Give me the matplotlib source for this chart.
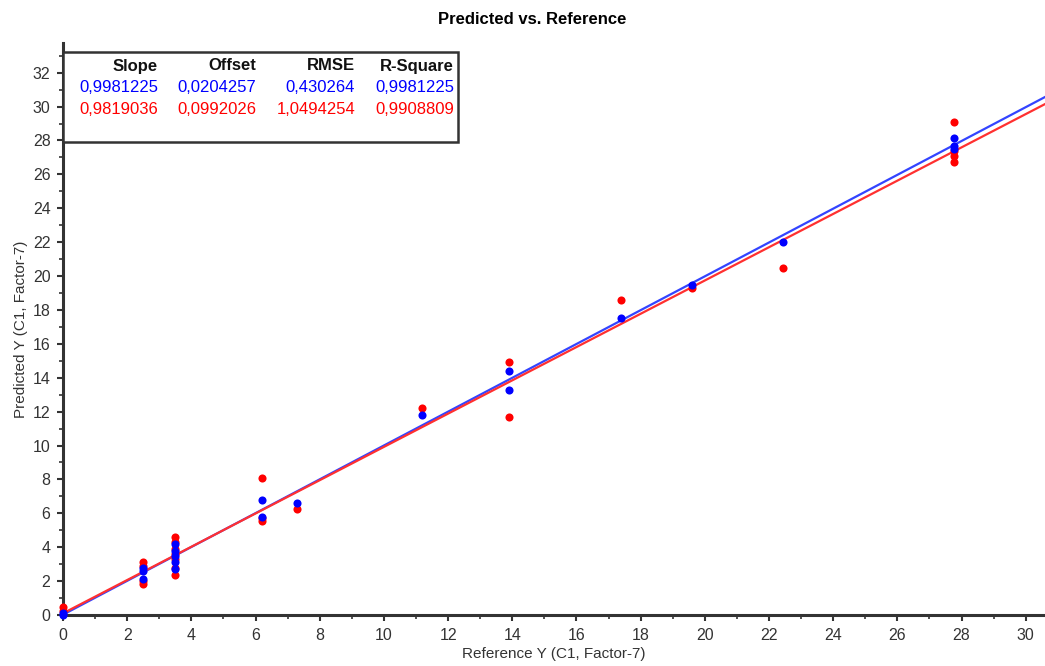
import matplotlib
matplotlib.use("Agg")
import matplotlib.pyplot as plt
from matplotlib.patches import Rectangle
from matplotlib.ticker import MultipleLocator

# Reference Y values (x) and predicted Y for calibration (blue) and validation (red)
blue_x = [0, 0, 2.5, 2.5, 2.5, 3.5, 3.5, 3.5, 3.5, 3.5, 6.2, 6.2, 7.3, 11.2,
          13.9, 13.9, 17.4, 19.6, 22.45, 27.75, 27.75, 27.75]
blue_y = [0.0, 0.1, 2.8, 2.6, 2.1, 4.2, 3.8, 3.5, 3.1, 2.7, 6.8, 5.8, 6.6, 11.8,
          14.4, 13.3, 17.55, 19.5, 22.0, 28.15, 27.7, 27.5]
red_x = [0, 0, 2.5, 2.5, 2.5, 2.5, 3.5, 3.5, 3.5, 3.5, 3.5, 3.5, 3.5, 6.2, 6.2,
         6.2, 7.3, 11.2, 13.9, 13.9, 17.4, 19.6, 22.45, 27.75, 27.75, 27.75, 27.75]
red_y = [0.45, 0.25, 3.1, 2.9, 2.0, 1.85, 4.6, 4.3, 3.9, 3.6, 3.3, 2.8, 2.35, 8.1,
         5.7, 5.55, 6.25, 12.2, 14.9, 11.7, 18.6, 19.3, 20.5, 29.1, 27.4, 27.1, 26.75]

# fit statistics shown in the table
headers = ["Slope", "Offset", "RMSE", "R-Square"]
blue_stats = ["0,9981225", "0,0204257", "0,430264", "0,9981225"]
red_stats = ["0,9819036", "0,0992026", "1,0494254", "0,9908809"]
blue_slope, blue_offset = 0.9981225, 0.0204257
red_slope, red_offset = 0.9819036, 0.0992026

W, H = 1045, 666
fig = plt.figure(figsize=(W / 100, H / 100), dpi=100)
ax = fig.add_axes([63 / W, 51 / H, (W - 63) / W, (615 - 43) / H])

xmax, ymax = 30.6, 33.75
ax.set_xlim(0, xmax)
ax.set_ylim(0, ymax)

lx = [0, xmax]
ax.plot(lx, [blue_offset + blue_slope * v for v in lx], color="#3344ff", lw=1.6, zorder=2)
ax.plot(lx, [red_offset + red_slope * v for v in lx], color="#ff3030", lw=1.6, zorder=2)
ax.scatter(red_x, red_y, s=34, color="#ff0000", zorder=3, clip_on=False, linewidths=0)
ax.scatter(blue_x, blue_y, s=34, color="#0000ff", zorder=4, clip_on=False, linewidths=0)

for s in ["top", "right"]:
    ax.spines[s].set_visible(False)
for s in ["left", "bottom"]:
    ax.spines[s].set_linewidth(2.2)
    ax.spines[s].set_color("#333333")

ax.xaxis.set_major_locator(MultipleLocator(2))
ax.xaxis.set_minor_locator(MultipleLocator(1))
ax.yaxis.set_major_locator(MultipleLocator(2))
ax.yaxis.set_minor_locator(MultipleLocator(1))
ax.tick_params(which="major", length=4, width=1.5, color="#333333",
               labelsize=11.5, labelcolor="#333333", pad=5)
ax.tick_params(which="minor", length=3, width=1.2, color="#333333")
for lab in ax.get_xticklabels() + ax.get_yticklabels():
    lab.set_family("Liberation Sans")

ax.set_xlabel("Reference Y (C1, Factor-7)", fontsize=11, color="#333333",
              family="Liberation Sans", labelpad=3)
ax.set_ylabel("Predicted Y (C1, Factor-7)", fontsize=11, color="#333333",
              family="Liberation Sans", labelpad=3)

fig.text(532 / W, 1 - 20 / H, "Predicted vs. Reference", ha="center", va="center",
         fontsize=12, fontweight="bold",
         family=["Liberation Sans Narrow", "Liberation Sans"], stretch="condensed")

# statistics table box
fig.patches.append(Rectangle((63 / W, 1 - 142 / H), (458 - 63) / W, (142 - 52) / H,
                             transform=fig.transFigure, fill=True, facecolor="white",
                             edgecolor="#333333", lw=1.8, zorder=5))
col_right = [158, 256, 355, 454]
for xr, hd, b, r in zip(col_right, headers, blue_stats, red_stats):
    fig.text(xr / W, 1 - 66 / H, hd, ha="right", va="center", fontsize=12,
             fontweight="bold", color="#111111",
             family=["Liberation Sans Narrow", "Liberation Sans"], zorder=6)
    fig.text(xr / W, 1 - 87 / H, b, ha="right", va="center", fontsize=12,
             color="#0000ff", family="Liberation Sans", zorder=6)
    fig.text(xr / W, 1 - 109 / H, r, ha="right", va="center", fontsize=12,
             color="#ff0000", family="Liberation Sans", zorder=6)

fig.savefig("out.png", dpi=100)
